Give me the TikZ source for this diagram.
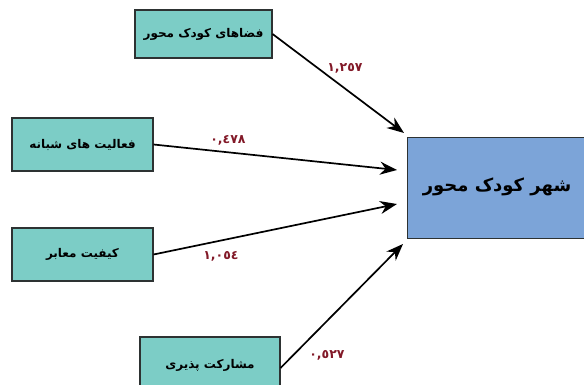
\documentclass[tikz,border=0pt]{standalone}
\usepackage{fontspec}
\TeXXeTstate=1
\newfontfamily\arabicfont[Script=Arabic]{DejaVu Sans}
\usetikzlibrary{arrows.meta}
\definecolor{tealbox}{RGB}{124,205,198}
\definecolor{bluebox}{RGB}{124,164,216}
\definecolor{edgegray}{RGB}{45,50,50}
\definecolor{labred}{RGB}{130,25,40}
\tikzset{
  srcbox/.style={draw=edgegray, line width=1.1pt, fill=tealbox, inner sep=0pt, font=\arabicfont\bfseries\fontsize{12}{14}\selectfont},
  tgtbox/.style={draw=edgegray, line width=1.1pt, fill=bluebox, minimum width=200pt, minimum height=101pt, inner sep=0pt},
  conn/.style={line width=1.7pt, -{Stealth[length=17pt,width=13pt]}},
  coef/.style={text=labred, font=\arabicfont\bfseries\fontsize{12.5}{14}\selectfont},
}
\begin{document}
\begin{tikzpicture}[x=1pt,y=-1pt]
\useasboundingbox (0,0) rectangle (584,385);
\clip (0,0) rectangle (584,385);
\node[srcbox, minimum width=137pt, minimum height=48pt] (b1) at (203.5,34) {\beginR فضاهای کودک محور\endR};
\node[srcbox, minimum width=141pt, minimum height=53pt] (b2) at (82.5,144.5) {\beginR فعالیت های شبانه\endR};
\node[srcbox, minimum width=141pt, minimum height=53pt] (b3) at (82.5,254.5) {\beginR کیفیت معابر\endR};
\node[srcbox, minimum width=140pt, minimum height=56pt] (b4) at (210,365) {\beginR مشارکت پذیری\endR};
\node[tgtbox, anchor=north west] (t) at (407,137) {};
\node[font=\arabicfont\bfseries\fontsize{18}{20}\selectfont, inner sep=0pt] (tl) at (497,187) {\beginR شهر کودک محور\endR};
\coordinate (t1) at (404,133);
\coordinate (t2) at (397,170);
\coordinate (t3) at (397,204);
\coordinate (t4) at (403,244);
\draw[conn] (b1.east) -- (t1);
\draw[conn] (b2.east) -- (t2);
\draw[conn] (b3.east) -- (t3);
\draw[conn] ([yshift=-3pt]b4.east) -- (t4);
\node[coef] (c1) at (345,68) {١,٢٥٧};
\node[coef] (c2) at (228,140) {٠,٤٧٨};
\node[coef] (c3) at (221,256) {١,٠٥٤};
\node[coef] (c4) at (327,355) {٠,٥٢٧};
\end{tikzpicture}
\end{document}
